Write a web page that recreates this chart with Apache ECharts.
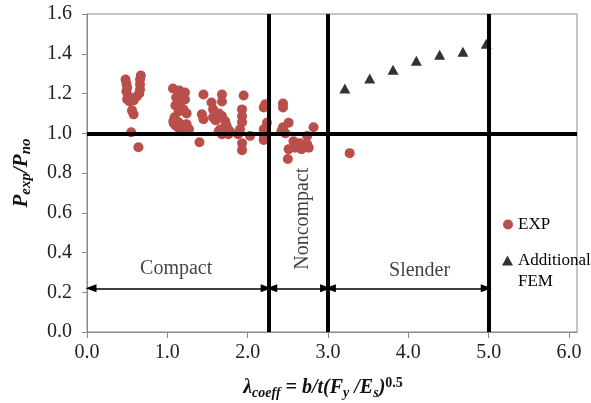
<!DOCTYPE html>
<html>
<head>
<meta charset="utf-8">
<script src="https://cdn.jsdelivr.net/npm/echarts@6/dist/echarts.min.js"></script>
<style>
html,body{margin:0;padding:0;background:#fff;}
#chart{width:591px;height:403px;}
</style>
</head>
<body>
<div id="chart"></div>
<script>
// ---- data ----
const expPoints = [
  [0.48,1.27],[0.49,1.25],[0.50,1.23],[0.49,1.21],[0.51,1.19],[0.50,1.17],[0.53,1.16],
  [0.58,1.165],[0.62,1.185],[0.65,1.20],[0.66,1.22],[0.66,1.245],[0.66,1.27],[0.67,1.29],
  [0.56,1.115],[0.58,1.095],[0.55,1.005],[0.64,0.93],
  [1.07,1.225],[1.15,1.215],[1.22,1.205],[1.11,1.18],[1.22,1.17],[1.16,1.155],[1.10,1.14],
  [1.20,1.12],[1.14,1.11],[1.24,1.10],[1.09,1.08],[1.075,1.06],[1.14,1.055],[1.10,1.04],
  [1.18,1.04],[1.24,1.045],[1.16,1.02],[1.27,1.02],[1.13,1.03],[1.20,1.01],[1.08,1.05],
  [1.40,0.955],[1.43,1.095],[1.45,1.07],[1.45,1.195],[1.55,1.155],[1.57,1.12],[1.57,1.08],
  [1.60,1.065],[1.68,1.195],[1.68,1.16],[1.68,1.087],[1.64,1.10],[1.72,1.06],[1.74,1.036],
  [1.66,1.02],[1.64,1.01],[1.68,0.995],[1.72,1.003],[1.76,0.995],[1.78,1.01],
  [1.95,1.19],[1.93,1.12],[1.93,1.085],[1.93,1.055],[1.905,1.02],[1.88,0.995],[2.03,0.986],
  [1.93,0.95],[1.93,0.915],
  [2.22,1.146],[2.20,1.13],[2.24,1.053],[2.20,1.02],[2.20,0.99],[2.20,0.966],
  [2.44,1.15],[2.44,1.13],[2.51,1.053],[2.44,1.03],[2.42,1.01],[2.47,1.00],[2.82,1.03],
  [2.74,0.986],[2.57,0.96],[2.65,0.95],[2.74,0.944],[2.51,0.92],[2.59,0.927],[2.67,0.92],
  [2.76,0.927],[2.50,0.87],[2.63,0.94],[2.71,0.94],
  [3.27,0.90]
];
const femX = [3.21, 3.52, 3.81, 4.10, 4.39, 4.68, 4.97];
const femY = [1.225, 1.275, 1.32, 1.365, 1.395, 1.41, 1.45];
const xTicks = [0, 1, 2, 3, 4, 5, 6];
const boundaries = [2.26, 3.0, 5.0];
const ratioLine = 1.0;
const arrowY = 0.22;
const arrowSpans = [[0.05, 2.23], [2.30, 2.97], [3.03, 4.97]];
const regionNames = ['Compact', 'Noncompact', 'Slender'];
const regionAnchors = [[1.11, 0.32], [2.69, 0.57], [4.14, 0.31]];
const seriesNames = ['EXP', 'Additional FEM'];

// ---- chart ----
const SERIF = '"Liberation Serif","Times New Roman",serif';
const chart = echarts.init(document.getElementById('chart'), null, {renderer: 'canvas'});

const refLines = boundaries.map(b => [{coord: [b, 0]}, {coord: [b, 1.6]}]);
refLines.push([{coord: [0, ratioLine]}, {coord: [6.1, ratioLine]}]);
const arrowLines = arrowSpans.map(s => [{coord: [s[0], arrowY]}, {coord: [s[1], arrowY]}]);

const option = {
  animation: false,
  backgroundColor: '#ffffff',
  grid: {left: 87, right: 14, top: 14, bottom: 71, containLabel: false, outerBoundsMode: 'none',
    show: true, borderColor: '#8a8a8a', borderWidth: 1},
  legend: [
    {data: [seriesNames[0]], left: 503, top: 216, padding: 0, itemWidth: 10, itemHeight: 10, itemGap: 5,
     textStyle: {fontFamily: SERIF, fontSize: 17, color: '#000'}},
    {data: [seriesNames[1]], left: 502, top: 252, padding: 0, itemWidth: 11, itemHeight: 10, itemGap: 5,
     formatter: () => 'Additional',
     textStyle: {fontFamily: SERIF, fontSize: 17, color: '#000'}}
  ],
  graphic: [
    {type: 'text', left: 518, top: 273, style: {text: 'FEM', font: '17px ' + SERIF, fill: '#000'}}
  ],
  xAxis: {
    type: 'value', min: 0, max: 6.1, interval: 1,
    axisLine: {show: true, lineStyle: {color: '#8a8a8a', width: 1}},
    axisTick: {show: true, length: 6, customValues: xTicks, lineStyle: {color: '#8a8a8a'}},
    axisLabel: {customValues: xTicks, margin: 11, fontFamily: SERIF, fontSize: 20, color: '#222',
      formatter: v => v.toFixed(1)},
    splitLine: {show: false},
    name: '{b|λ}{s|coeff}{b| = b/t(F}{s|y}{b| /E}{s|s}{b|)}{p|0.5}',
    nameLocation: 'middle', nameGap: 44,
    nameTextStyle: {
      padding: [0, 18, 0, 0],
      rich: {
        b: {fontFamily: SERIF, fontSize: 20, fontWeight: 'bold', fontStyle: 'italic', color: '#111', lineHeight: 24, verticalAlign: 'middle'},
        s: {fontFamily: SERIF, fontSize: 14, fontWeight: 'bold', fontStyle: 'italic', color: '#111', lineHeight: 12, verticalAlign: 'bottom'},
        p: {fontFamily: SERIF, fontSize: 14, fontWeight: 'bold', color: '#111', lineHeight: 12, verticalAlign: 'top'}
      }
    }
  },
  yAxis: {
    type: 'value', min: 0, max: 1.6, interval: 0.2,
    axisLine: {show: true, lineStyle: {color: '#8a8a8a', width: 1}},
    axisTick: {show: true, length: 5, lineStyle: {color: '#8a8a8a'}},
    axisLabel: {margin: 15, fontFamily: SERIF, fontSize: 20, color: '#222', formatter: v => v.toFixed(1)},
    splitLine: {show: false},
    name: '{b|P}{s|exp}{b|/P}{s|no}',
    nameLocation: 'middle', nameGap: 53,
    nameTextStyle: {
      rich: {
        b: {fontFamily: SERIF, fontSize: 21, fontWeight: 'bold', fontStyle: 'italic', color: '#111', lineHeight: 24, verticalAlign: 'middle'},
        s: {fontFamily: SERIF, fontSize: 15, fontWeight: 'bold', fontStyle: 'italic', color: '#111', lineHeight: 12, verticalAlign: 'bottom'}
      }
    }
  },
  series: [
    {
      name: 'limits', type: 'line', data: [], silent: true, z: 1,
      markLine: {
        silent: true, symbol: ['none', 'none'], animation: false,
        label: {show: false},
        lineStyle: {color: '#000', width: 4, type: 'solid'},
        emphasis: {disabled: true},
        data: refLines
      }
    },
    {
      name: 'arrows', type: 'line', data: [], silent: true, z: 1,
      markLine: {
        silent: true, symbol: ['triangle', 'triangle'], symbolSize: [8, 11], animation: false,
        label: {show: false},
        lineStyle: {color: '#000', width: 1.5, type: 'solid'},
        emphasis: {disabled: true},
        data: arrowLines
      }
    },
    {
      name: seriesNames[0], type: 'scatter', z: 3,
      symbol: 'circle', symbolSize: 10,
      itemStyle: {color: '#B94E4B', opacity: 1},
      data: expPoints
    },
    {
      name: seriesNames[1], type: 'scatter', z: 3,
      symbol: 'triangle', symbolSize: [11, 10],
      itemStyle: {color: '#000'},
      data: femX.map((x, i) => [x, femY[i]])
    },
    {
      name: 'regions', type: 'scatter', z: 4, silent: true,
      symbolSize: 0,
      data: regionNames.map((n, i) => ({name: n, value: regionAnchors[i],
        label: {rotate: n === 'Noncompact' ? 90 : 0}})),
      label: {show: true, position: 'inside', formatter: p => p.name,
        fontFamily: SERIF, fontSize: 20, color: '#111'}
    }
  ]
};
chart.setOption(option);
</script>
</body>
</html>
